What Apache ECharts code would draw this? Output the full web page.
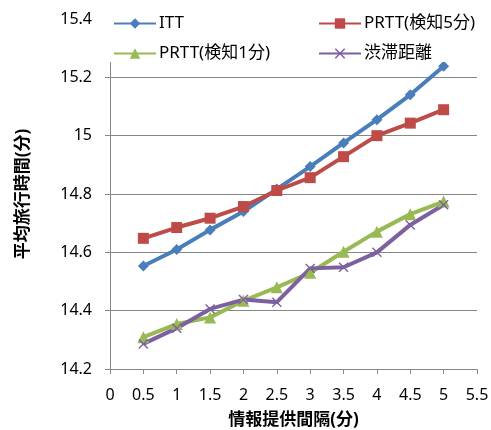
<!DOCTYPE html>
<html>
<head>
<meta charset="utf-8">
<script src="https://cdn.jsdelivr.net/npm/echarts@6/dist/echarts.min.js"></script>
<style>
  html, body { margin: 0; padding: 0; background: #fff; }
  #chart { width: 491px; height: 430px; }
</style>
</head>
<body>
<div id="chart"></div>
<script>
// Information interval (minutes)
const intervals = [0.5, 1, 1.5, 2, 2.5, 3, 3.5, 4, 4.5, 5];

// Average travel time (minutes) per strategy
const itt       = [14.553, 14.61, 14.677, 14.74, 14.817, 14.894, 14.975, 15.055, 15.14, 15.238];
const prtt5     = [14.648, 14.685, 14.717, 14.757, 14.812, 14.856, 14.928, 15.0, 15.043, 15.089];
const prtt1     = [14.309, 14.354, 14.377, 14.434, 14.48, 14.53, 14.602, 14.671, 14.731, 14.774];
const congested = [14.286, 14.34, 14.406, 14.438, 14.429, 14.545, 14.549, 14.6, 14.694, 14.763];

const seriesNames = ['ITT', 'PRTT(検知5分)', 'PRTT(検知1分)', '渋滞距離'];
const xTitle = '情報提供間隔(分)';
const yTitle = '平均旅行時間(分)';

const pair = (ys) => intervals.map((x, i) => [x, ys[i]]);

const FONT = '"Noto Sans", "Noto Sans CJK JP", sans-serif';
const GRAY = '#868686';
const crossIcon = 'path://M0,1L1,0L5,4L9,0L10,1L6,5L10,9L9,10L5,6L1,10L0,9L4,5Z';

const mkSeries = (name, data, color, symbol, size) => ({
  name, type: 'line', data: pair(data),
  symbol, symbolSize: size,
  lineStyle: { color, width: 4 },
  itemStyle: { color },
  emphasis: { disabled: true },
  z: 3
});

const chart = echarts.init(document.getElementById('chart'), null, { renderer: 'canvas' });

const legendCommon = {
  orient: 'vertical',
  top: 10,
  itemWidth: 42,
  itemHeight: 13,
  itemGap: 13,
  textStyle: { fontFamily: FONT, fontSize: 17, color: '#000', padding: [0, 0, 0, -2] },
  z: 60,
  selectedMode: false
};

chart.setOption({
  animation: false,
  backgroundColor: '#fff',
  grid: { left: 110, right: 14, top: 19, bottom: 61, containLabel: false, outerBoundsMode: 'none' },
  legend: [
    Object.assign({ left: 108, data: [seriesNames[0], seriesNames[2]] }, legendCommon),
    Object.assign({ left: 313, data: [seriesNames[1], seriesNames[3]] }, legendCommon)
  ],
  graphic: [{
    type: 'rect', z: 50,
    shape: { x: 103, y: 4, width: 384, height: 58 },
    style: { fill: '#fff' }
  }],
  xAxis: {
    type: 'value', min: 0, max: 5.5, interval: 0.5,
    name: xTitle, nameLocation: 'middle', nameGap: 43,
    nameTextStyle: { fontFamily: FONT, fontSize: 17, fontWeight: 'bold', color: '#000' },
    axisLine: { show: true, lineStyle: { color: GRAY, width: 1 } },
    axisTick: { show: true, length: 5, lineStyle: { color: GRAY } },
    axisLabel: { fontFamily: FONT, fontSize: 16, color: '#000', margin: 18 },
    splitLine: { show: false }
  },
  yAxis: {
    type: 'value', min: 14.2, max: 15.4, interval: 0.2,
    name: yTitle, nameLocation: 'middle', nameGap: 78, nameRotate: 90,
    nameTextStyle: { fontFamily: FONT, fontSize: 17, fontWeight: 'bold', color: '#000' },
    axisLine: { show: true, lineStyle: { color: GRAY, width: 1 } },
    axisTick: { show: true, length: 5, lineStyle: { color: GRAY } },
    axisLabel: { fontFamily: FONT, fontSize: 16, color: '#000', margin: 18 },
    splitLine: { show: true, lineStyle: { color: GRAY, width: 1 } }
  },
  series: [
    mkSeries(seriesNames[0], itt, '#4A7EBB', 'diamond', 11),
    mkSeries(seriesNames[1], prtt5, '#BE4B48', 'rect', 11),
    mkSeries(seriesNames[2], prtt1, '#98B954', 'triangle', 12),
    mkSeries(seriesNames[3], congested, '#7D60A0', crossIcon, 10)
  ]
});
</script>
</body>
</html>
